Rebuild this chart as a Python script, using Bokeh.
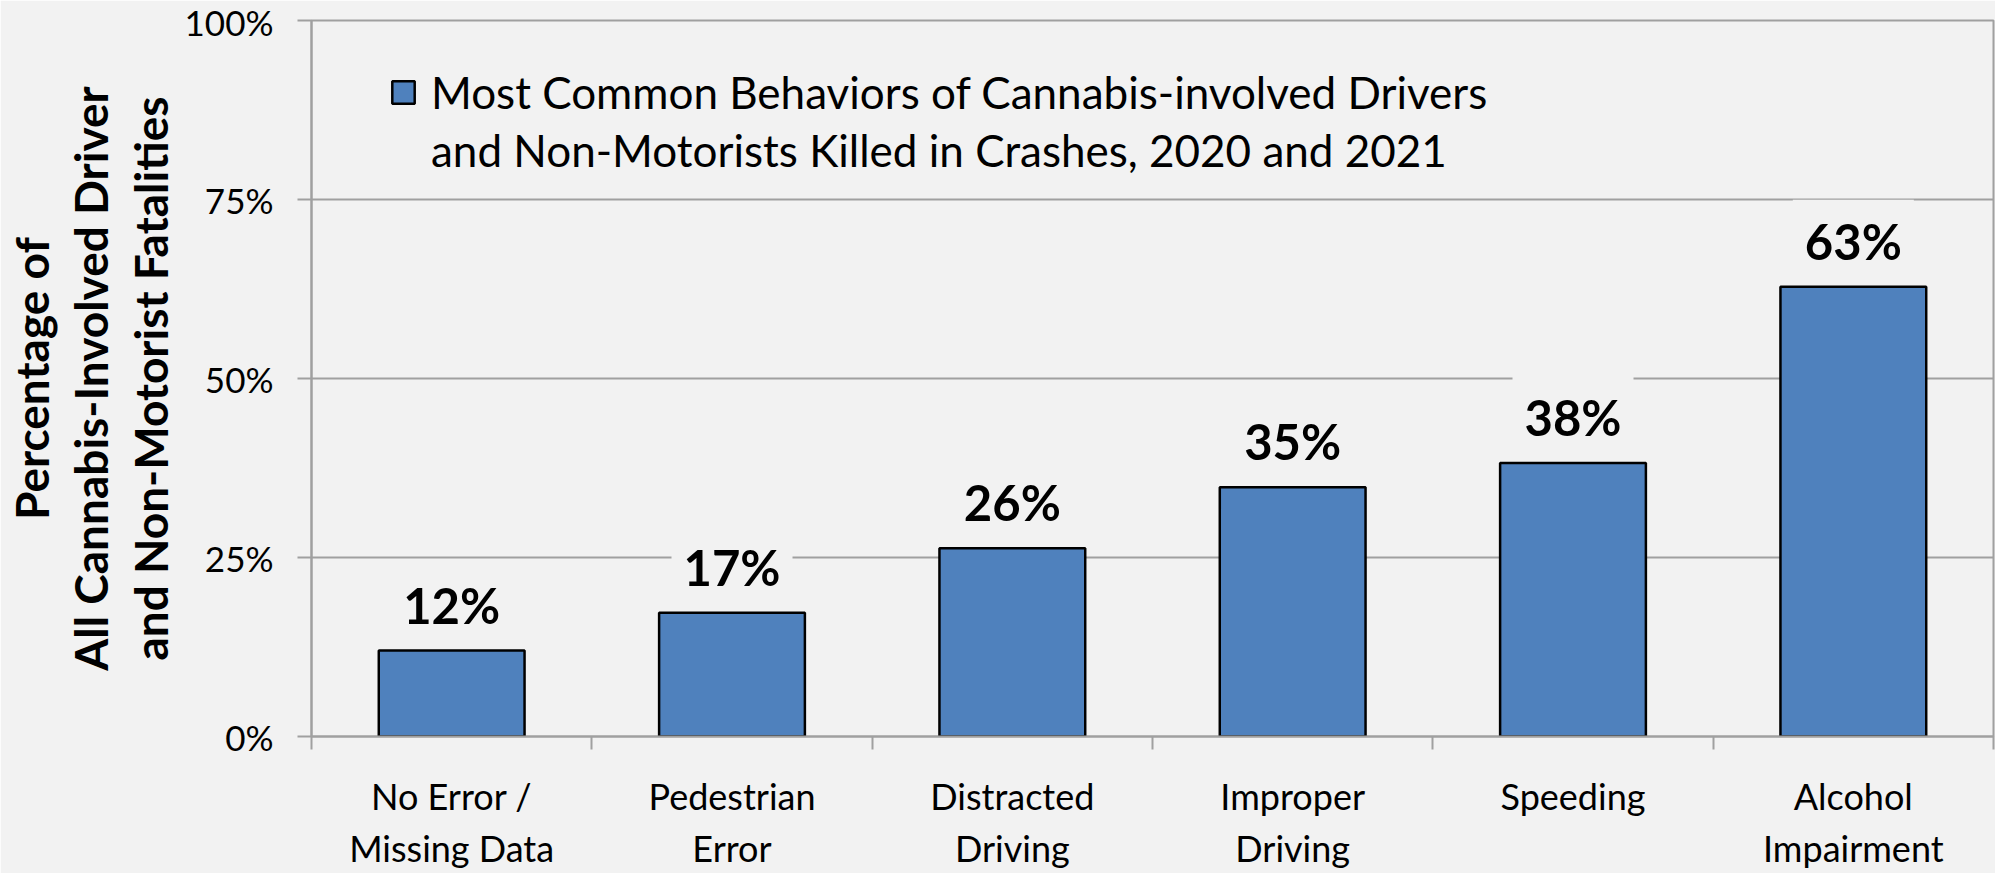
from bokeh.plotting import figure
from bokeh.models import (ColumnDataSource, FixedTicker, PrintfTickFormatter,
                          Range1d, Legend, LegendItem)
from bokeh.core.properties import value
from bokeh.embed import file_html
from bokeh.resources import INLINE

categories = ["No Error /\nMissing Data", "Pedestrian\nError", "Distracted\nDriving",
              "Improper\nDriving", "Speeding", "Alcohol\nImpairment"]
percent_values = [12.0, 17.3, 26.3, 34.8, 38.2, 62.8]
value_labels = ["12%", "17%", "26%", "35%", "38%", "63%"]
y_ticks = [0, 25, 50, 75, 100]
series_lines = ["Most Common Behaviors of Cannabis-involved Drivers",
                "and Non-Motorists Killed in Crashes, 2020 and 2021"]
y_title = "Percentage of\nAll Cannabis-Involved Driver\nand Non-Motorist Fatalities"

BG = "#F2F2F2"
GRID = "#A0A0A0"
FONT = "Lato"

xs = [i + 0.5 for i in range(len(categories))]
src = ColumnDataSource(dict(x=xs, top=percent_values, lab=value_labels))

p = figure(width=1995, height=873, output_backend="svg", toolbar_location=None,
           x_range=Range1d(0, len(categories)), y_range=Range1d(0, 100),
           min_border_left=309, min_border_right=2, min_border_top=20,
           min_border_bottom=127)
p.background_fill_color = BG
p.border_fill_color = BG
p.outline_line_color = GRID
p.outline_line_width = 2

bars = p.vbar(x="x", top="top", width=0.52, source=src, fill_color="#4F81BD",
              line_color="black", line_width=2.5)
blank = p.scatter(x=[], y=[], size=1, fill_alpha=0, line_alpha=0)

p.text(x="x", y="top", text="lab", source=src, y_offset=-46,
       text_align="center", text_baseline="middle",
       text_font=value(FONT), text_font_style="bold", text_font_size="49px",
       text_color="black", background_fill_color=BG, padding=12)

# y axis
p.yaxis.ticker = FixedTicker(ticks=y_ticks)
p.yaxis.formatter = PrintfTickFormatter(format="%d%%")
p.yaxis.axis_line_color = GRID
p.yaxis.axis_line_width = 2
p.yaxis.major_tick_line_color = GRID
p.yaxis.major_tick_line_width = 2
p.yaxis.major_tick_out = 14
p.yaxis.major_tick_in = 0
p.yaxis.minor_tick_line_color = None
p.yaxis.major_label_standoff = 24
p.yaxis.major_label_text_font = FONT
p.yaxis.major_label_text_font_size = "35px"
p.yaxis.major_label_text_color = "black"
p.yaxis.axis_label = y_title
p.yaxis.axis_label_text_font = FONT
p.yaxis.axis_label_text_font_style = "bold"
p.yaxis.axis_label_text_font_size = "46px"
p.yaxis.axis_label_text_line_height = 1.08
p.yaxis.axis_label_standoff = 4
p.yaxis.axis_label_text_color = "black"

# x axis: labels at category centres, ticks at boundaries
p.xaxis.ticker = FixedTicker(ticks=xs, minor_ticks=list(range(len(categories) + 1)))
p.xaxis.major_label_overrides = {x: c for x, c in zip(xs, categories)}
p.xaxis.axis_line_color = GRID
p.xaxis.axis_line_width = 2
p.xaxis.major_tick_line_color = None
p.xaxis.major_tick_out = 0
p.xaxis.major_tick_in = 0
p.xaxis.minor_tick_line_color = GRID
p.xaxis.minor_tick_line_width = 2
p.xaxis.minor_tick_out = 13
p.xaxis.minor_tick_in = 0
p.xaxis.major_label_standoff = 24
p.xaxis.major_label_text_font = FONT
p.xaxis.major_label_text_font_size = "36px"
p.xaxis.major_label_text_color = "black"
p.xaxis.major_label_text_line_height = 1.2

p.xgrid.grid_line_color = None
p.ygrid.grid_line_color = GRID
p.ygrid.grid_line_width = 2

legend = Legend(items=[LegendItem(label=series_lines[0], renderers=[bars]),
                       LegendItem(label=series_lines[1], renderers=[blank])],
                location=(78, 560), orientation="vertical",
                background_fill_alpha=0, border_line_color=None,
                padding=0, margin=0, glyph_width=28, glyph_height=28,
                spacing=6, label_height=52,
                label_text_font=FONT, label_text_font_size="44px",
                label_text_color="black", label_standoff=14)
p.add_layout(legend)

open("out.html", "w").write(file_html(p, INLINE))
